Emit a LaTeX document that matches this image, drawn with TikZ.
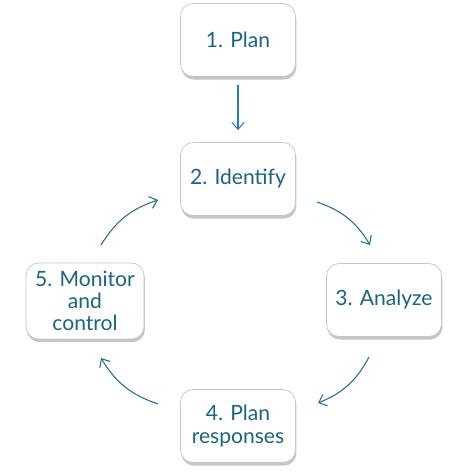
\documentclass[tikz,border=0pt]{standalone}
\usepackage{fontspec}
\setmainfont{Lato}
\usepackage{xcolor}
\usepackage{tikz}
\usetikzlibrary{arrows.meta, shadows, calc}

\definecolor{steptext}{HTML}{1B6580}
\definecolor{cyclearrow}{HTML}{22708A}
\definecolor{startarrow}{HTML}{2A7CC7}

\begin{document}
\begin{tikzpicture}[x=0.02cm, y=-0.02cm,
    stepbox/.style={draw=gray!45, line width=0.4pt, fill=white, rounded corners=0.25cm,
        minimum width=2.3cm, minimum height=1.46cm, align=center, text=steptext,
        font=\fontsize{12}{12.6}\selectfont,
        drop shadow={opacity=0.45, shadow xshift=0.5pt, shadow yshift=-1.8pt}},
    flow/.style={-{Straight Barb[length=4pt, width=7pt]}, cyclearrow, line width=0.6pt}]

    % Canvas
    \useasboundingbox (0, 0) rectangle (455, 473);

    % Steps
    \node[stepbox] (plan)     at (238, 40)  {1. Plan};
    \node[stepbox] (identify) at (238, 179) {2. Identify};
    \node[stepbox] (analyze)  at (384, 300) {3. Analyze};
    \node[stepbox] (respond)  at (238, 426) {4. Plan\\responses};
    \node[stepbox, minimum width=2.36cm, minimum height=1.52cm] (monitor) at (85, 301) {5. Monitor\\and\\control};

    % Arc end points
    \coordinate (a1) at (317, 202);
    \coordinate (b1) at (370, 245);
    \coordinate (a2) at (369, 357);
    \coordinate (b2) at (318, 403);
    \coordinate (a3) at (158, 404);
    \coordinate (b3) at (101, 358);
    \coordinate (a4) at (101, 245);
    \coordinate (b4) at (158, 200);

    % Start arrow
    \draw[flow, startarrow] (plan.south) ++(0, 8) coordinate (p0) -- ($(identify.north)+(0, -12)$) coordinate (p1);

    % Cycle
    \draw[flow] (a1) to[bend left=20] (b1);
    \draw[flow] (a2) to[bend left=20] (b2);
    \draw[flow] (a3) to[bend left=20] (b3);
    \draw[flow] (a4) to[bend left=20] (b4);

\end{tikzpicture}
\end{document}
